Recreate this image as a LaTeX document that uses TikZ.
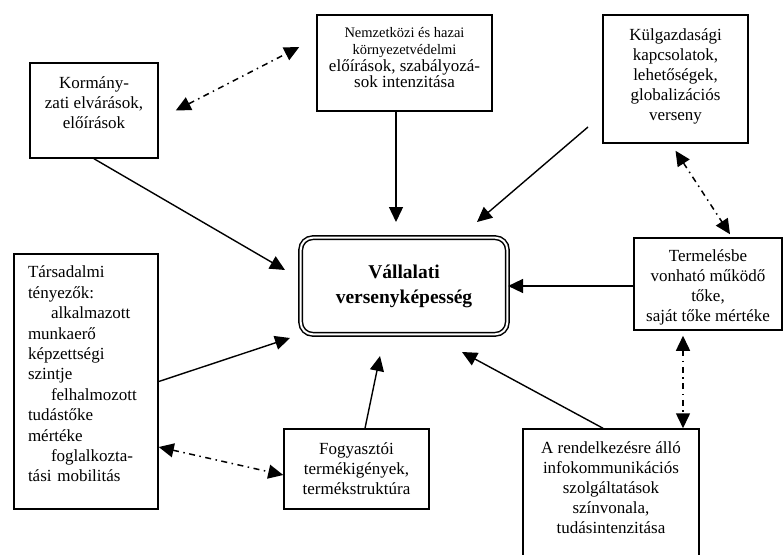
\documentclass[tikz,border=0pt]{standalone}
\usepackage{fontspec}
\setmainfont{Liberation Serif}
\usetikzlibrary{arrows.meta}

\begin{document}
\begin{tikzpicture}
		[x=1pt,y=-1pt,
		box/.style={rectangle,draw=black,line width=1.5pt,align=center,inner sep=0pt,
			font=\fontsize{17}{20}\selectfont},
		core/.style={rectangle,rounded corners=12pt,draw=black,double,double distance=2pt,
			line width=1.5pt,align=center,inner sep=0pt,font=\fontsize{19.5}{25}\selectfont\bfseries},
		link/.style={line width=1.4pt,->},
		dashdot/.style={line width=1.5pt,<->,dash pattern=on 6pt off 4.5pt on 1.5pt off 4.5pt},
		>={Triangle[length=15pt,width=14pt]}]
		\useasboundingbox (0,0) rectangle (783,554);
		
		\node[box,minimum width=128,minimum height=95] (korm) at (94,110.5)
			{Kormány-\\zati elvárások,\\előírások\\[-5pt]};
		\node[box,minimum width=175,minimum height=96,font=\fontsize{17}{16.7}\selectfont] (nemz) at (404.5,63)
			{\fontsize{14.5}{16.7}\selectfont Nemzetközi és hazai\\\fontsize{14.5}{16.7}\selectfont környezetvédelmi\\előírások, szabályozá-\\sok intenzitása\\[-6pt]};
		\node[box,minimum width=145,minimum height=128] (kulg) at (675.5,79)
			{Külgazdasági\\kapcsolatok,\\lehetőségek,\\globalizációs\\verseny\\[-11pt]};
		\node[core,minimum width=206.6,minimum height=96.6] (main) at (404,286)
			{Vállalati\\versenyképesség};
		\node[box,minimum width=148,minimum height=92] (term) at (708,284)
			{\rule{0pt}{19pt}Termelésbe\\vonható működő\\tőke,\\saját tőke mértéke};
		\node[box,align=left,text width=116pt,inner xsep=14pt,minimum height=255,
			font=\fontsize{17}{20.4}\selectfont] (tars) at (86,381.5)
			{Társadalmi\\tényezők:\\\hspace*{23pt}alkalmazott\\munkaerő\\képzettségi\\szintje\\\hspace*{23pt}felhalmozott\\tudástőke\\mértéke\\\hspace*{23pt}foglalkozta-\\tási mobilitás\par\vspace{15pt}\hrule height 0pt};
		\node[box,minimum width=145,minimum height=80] (fogy) at (356.5,469)
			{Fogyasztói\\termékigények,\\termékstruktúra};
		\node[box,minimum width=176,minimum height=140] (rend) at (611,499)
			{A rendelkezésre álló\\infokommunikációs\\szolgáltatások\\színvonala,\\tudásintenzitása\\[3pt]};
		
		\coordinate (kormtip) at (285,270);
		\coordinate (nemztip) at (396,222);
		\coordinate (kulgfrom) at (588,127);
		\coordinate (kulgtip) at (477,222);
		\coordinate (rendtip) at (462,352);
		\coordinate (fogytip) at (380,356);
		\coordinate (tarstip) at (290,338);
		
		\draw[link] (korm.south) -- (kormtip);
		\draw[link] ([xshift=-8.5pt]nemz.south) -- (nemztip);
		\draw[link] (kulgfrom) -- (kulgtip);
		\draw[link] ([yshift=-2pt]term.west) -- ([yshift=-2pt]term.west -| main.east);
		\draw[link] ([xshift=-8pt]rend.north) -- (rendtip);
		\draw[link] ([xshift=8.5pt]fogy.north) -- (fogytip);
		\draw[link] (tars.east) -- (tarstip);
		
		\draw[dashdot] ([xshift=17pt]korm.east) -- ([shift={(-17,-16)}]nemz.west);
		\draw[dashdot] ([yshift=-7pt]kulg.south) -- ([shift={(22,-3)}]term.north);
		\draw[dashdot] ([shift={(-25,5)}]term.south) -- ([xshift=72pt]rend.north);
		\draw[dashdot] ([yshift=-65.5pt]tars.east) -- ([yshift=-6pt]fogy.west);
		
	\end{tikzpicture}
\end{document}
